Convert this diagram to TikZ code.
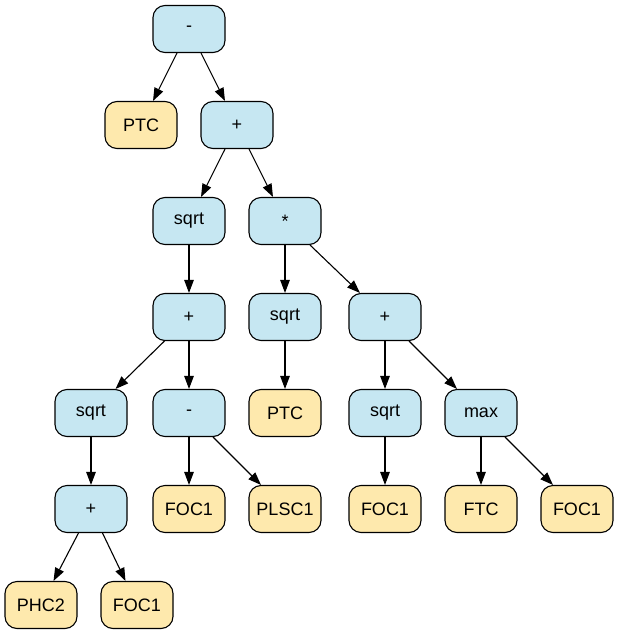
\documentclass[tikz,border=0pt]{standalone}
\usepackage{fontspec}
\setmainfont{Liberation Sans}
\usetikzlibrary{arrows.meta}
\definecolor{opfill}{HTML}{C6E7F2}
\definecolor{leaffill}{HTML}{FEE9AD}
\tikzset{
  base/.style={draw=black, line width=1.1pt, rounded corners=12pt, minimum width=72pt, minimum height=47pt, inner sep=0pt, font=\fontsize{18}{18}\selectfont},
  op/.style={base, fill=opfill},
  leaf/.style={base, fill=leaffill},
  edge/.style={line width=1.1pt, -{Triangle[length=13pt, width=9.5pt]}}
}
\begin{document}
\begin{tikzpicture}[x=1pt, y=-1pt]
\useasboundingbox (0,0) rectangle (619,635);
\node[op] (root) at (189,29) {-};
\node[leaf] (ptc1) at (141,125) {PTC};
\node[op] (p1) at (237,125) {+};
\node[op] (sq1) at (189,221) {sqrt};
\node[op] (mul) at (285,221) {*};
\node[op] (p2) at (189,317) {+};
\node[op] (sq2) at (285,317) {sqrt};
\node[op] (p3) at (385,317) {+};
\node[op] (sq3) at (91,413) {sqrt};
\node[op] (m2) at (189,413) {-};
\node[leaf] (ptc2) at (285,413) {PTC};
\node[op] (sq4) at (385,413) {sqrt};
\node[op] (mx) at (481,413) {max};
\node[op] (p4) at (91,509) {+};
\node[leaf] (foca) at (189,509) {FOC1};
\node[leaf] (plsc) at (285,509) {PLSC1};
\node[leaf] (focb) at (385,509) {FOC1};
\node[leaf] (ftc) at (481,509) {FTC};
\node[leaf] (focc) at (577,509) {FOC1};
\node[leaf] (phc) at (41,605) {PHC2};
\node[leaf] (focd) at (137,605) {FOC1};
\draw[edge] (root) -- (ptc1);
\draw[edge] (root) -- (p1);
\draw[edge] (p1) -- (sq1);
\draw[edge] (p1) -- (mul);
\draw[edge] (sq1) -- (p2);
\draw[edge] (mul) -- (sq2);
\draw[edge] (mul) -- (p3);
\draw[edge] (p2) -- (sq3);
\draw[edge] (p2) -- (m2);
\draw[edge] (sq2) -- (ptc2);
\draw[edge] (p3) -- (sq4);
\draw[edge] (p3) -- (mx);
\draw[edge] (sq3) -- (p4);
\draw[edge] (m2) -- (foca);
\draw[edge] (m2) -- (plsc);
\draw[edge] (sq4) -- (focb);
\draw[edge] (mx) -- (ftc);
\draw[edge] (mx) -- (focc);
\draw[edge] (p4) -- (phc);
\draw[edge] (p4) -- (focd);
\end{tikzpicture}
\end{document}
